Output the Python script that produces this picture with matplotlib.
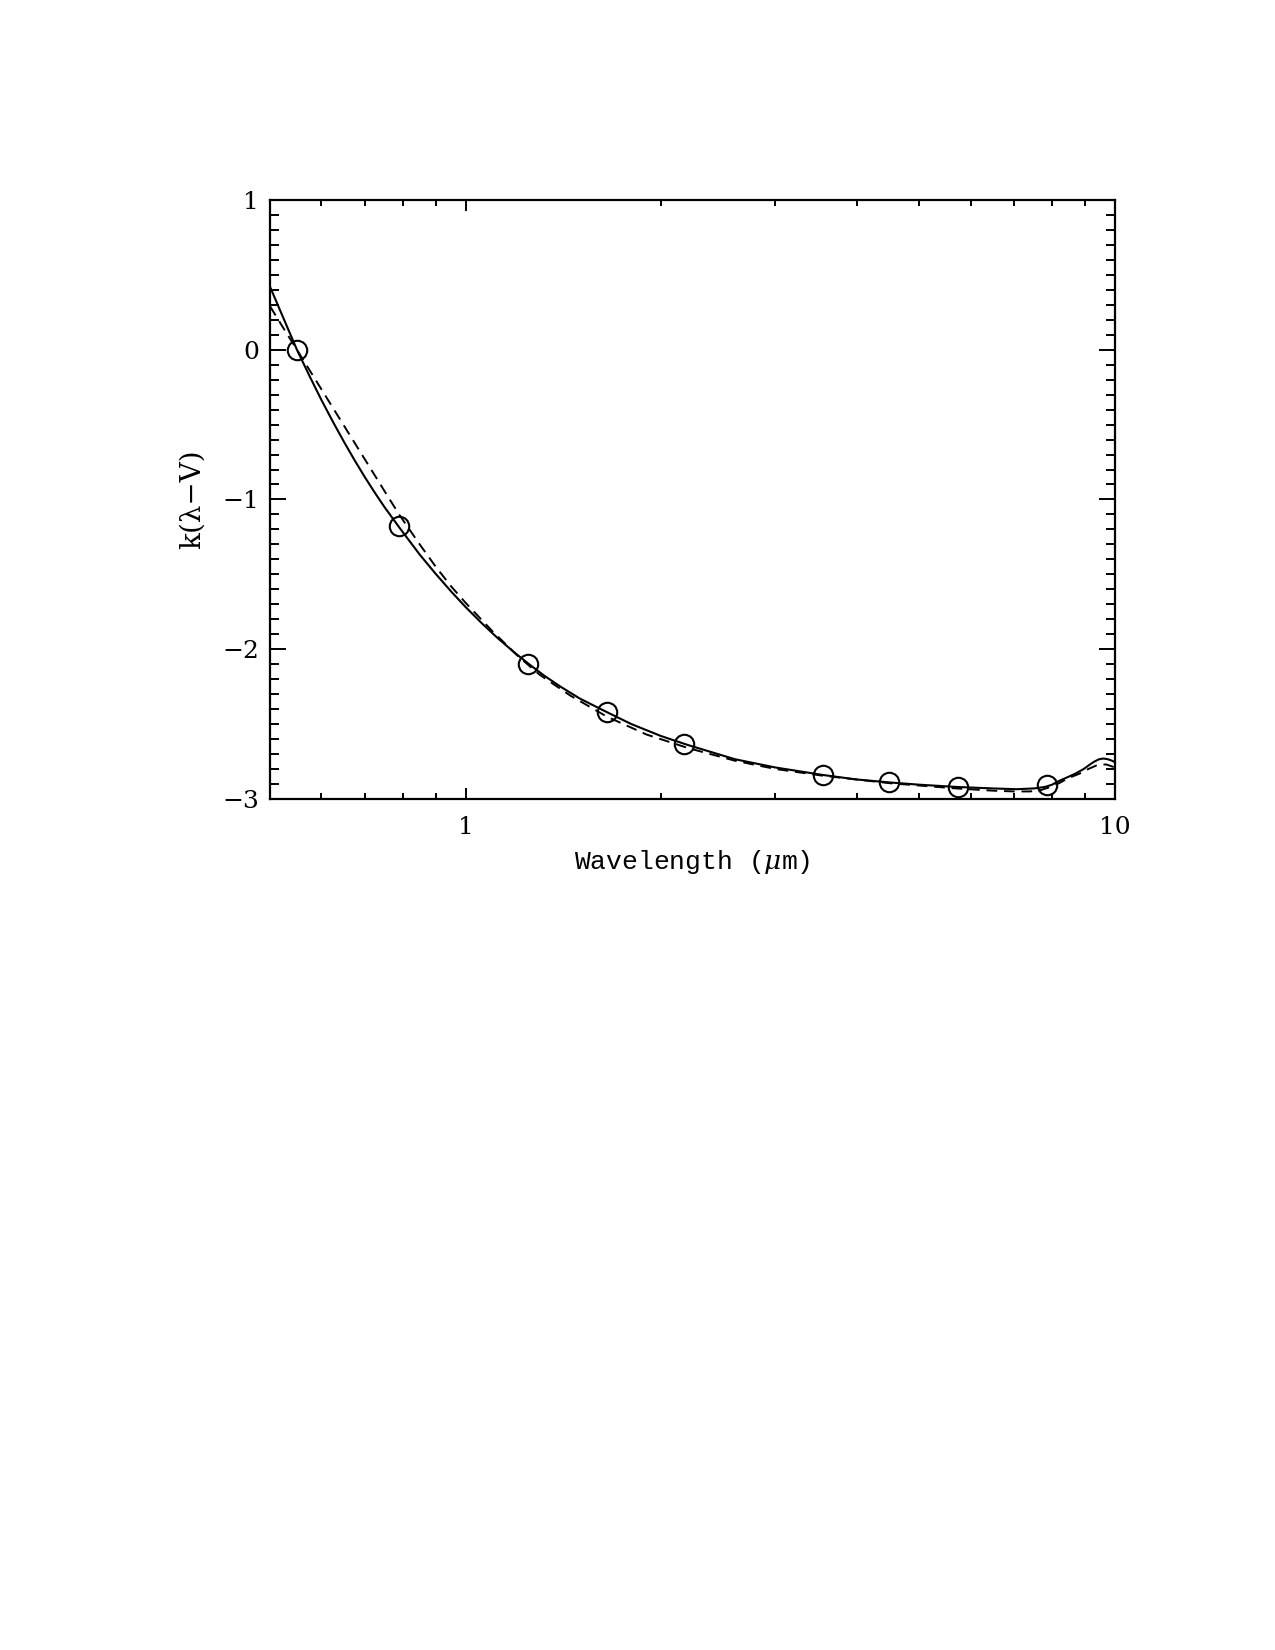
import numpy as np
import matplotlib
matplotlib.use("Agg")
import matplotlib.pyplot as plt
from matplotlib.ticker import FixedLocator, NullFormatter, FixedFormatter

plt.rcParams['font.family'] = ['DejaVu Serif']
plt.rcParams['mathtext.fontset'] = 'dejavuserif'

# photometric points (band wavelength, k(lambda-V))
band_wave = [0.55, 0.79, 1.25, 1.65, 2.17, 3.55, 4.49, 5.73, 7.87]
band_k = [0.0, -1.18, -2.10, -2.42, -2.63, -2.84, -2.89, -2.92, -2.91]

# solid curve
solid_wave = [0.5, 0.525, 0.55, 0.575, 0.6, 0.625, 0.65, 0.675, 0.7, 0.725, 0.75,
              0.79, 0.85, 0.9, 0.95, 1.0, 1.06, 1.12, 1.19, 1.25, 1.32, 1.4, 1.5,
              1.65, 1.8, 2.0, 2.2, 2.6, 3.0, 3.55, 4.0, 4.5, 5.0, 5.7, 6.5, 7.05,
              7.5, 7.8, 8.0, 8.2, 8.45, 8.7, 8.95, 9.15, 9.3, 9.45, 9.6, 9.75, 9.9, 10.0]
solid_k = [0.42, 0.205, 0.0, -0.175, -0.336, -0.482, -0.616, -0.739, -0.852, -0.955, -1.05,
           -1.185, -1.368, -1.498, -1.614, -1.718, -1.828, -1.925, -2.023, -2.097, -2.175, -2.25, -2.33,
           -2.42, -2.50, -2.58, -2.64, -2.735, -2.79, -2.84, -2.87, -2.89, -2.905, -2.92, -2.93, -2.935,
           -2.93, -2.92, -2.905, -2.88, -2.855, -2.83, -2.80, -2.77, -2.75, -2.735, -2.73, -2.735, -2.745, -2.755]

# dashed curve
dash_wave = [0.5, 0.525, 0.55, 0.6, 0.65, 0.7, 0.75, 0.79, 0.85, 0.9, 0.95, 1.0, 1.1, 1.2, 1.3,
             1.45, 1.65, 1.9, 2.2, 2.6, 3.0, 3.55, 4.5, 5.7, 6.5, 7.0, 7.4, 7.7,
             7.95, 8.2, 8.4, 8.6, 8.83, 9.1, 9.38, 9.55, 9.7, 9.85, 10.0]
dash_k = [0.29, 0.14, 0.0, -0.265, -0.508, -0.733, -0.943, -1.10, -1.30, -1.45, -1.58, -1.69, -1.88,
          -2.04, -2.17, -2.31, -2.45, -2.57, -2.66, -2.745, -2.80, -2.845, -2.895, -2.93, -2.945, -2.95,
          -2.95, -2.94, -2.92, -2.895, -2.87, -2.85, -2.83, -2.80, -2.775, -2.77, -2.77, -2.78, -2.79]

fig = plt.figure(figsize=(12.75, 16.5), dpi=100)
ax = fig.add_axes([0.2118, 0.5158, 0.8745 - 0.2118, 0.8788 - 0.5158])

ax.plot(solid_wave, solid_k, color='k', lw=1.5)
ax.plot(dash_wave, dash_k, color='k', lw=1.4, linestyle=(0, (5.5, 3.5)))
ax.plot(band_wave, band_k, linestyle='none', marker='o', ms=14,
        mfc='none', mec='k', mew=1.5)

ax.set_xscale('log')
ax.set_xlim(0.5, 10)
ax.set_ylim(-3, 1)

ax.xaxis.set_major_locator(FixedLocator([1, 10]))
ax.xaxis.set_major_formatter(FixedFormatter(['1', '10']))
ax.xaxis.set_minor_locator(FixedLocator([0.5, 0.6, 0.7, 0.8, 0.9, 2, 3, 4, 5, 6, 7, 8, 9]))
ax.xaxis.set_minor_formatter(NullFormatter())
ax.yaxis.set_major_locator(FixedLocator([-3, -2, -1, 0, 1]))
ax.yaxis.set_major_formatter(FixedFormatter(['\u22123', '\u22122', '\u22121', '0', '1']))
ax.yaxis.set_minor_locator(FixedLocator(np.arange(-3, 1.01, 0.1)))

for s in ax.spines.values():
    s.set_linewidth(1.6)

ax.tick_params(axis='both', which='both', direction='in', top=True, right=True,
               width=1.4, labelsize=18)
ax.tick_params(axis='x', which='major', length=8, pad=12)
ax.tick_params(axis='x', which='minor', length=4)
ax.tick_params(axis='y', which='major', length=11.5, pad=8)
ax.tick_params(axis='y', which='minor', length=6.5)

ax.set_xlabel('Wavelength ($\\mu$m)', fontsize=19, family='Liberation Mono', labelpad=7)
ax.set_ylabel('k(\u03bb\u2212V)', fontsize=20, labelpad=12)

fig.savefig('out.png', dpi=100)
